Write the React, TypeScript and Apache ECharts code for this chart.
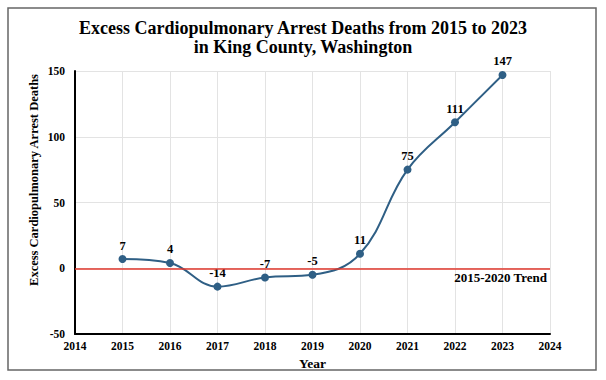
import React, { useEffect, useRef } from "react";
import * as echarts from "echarts";

const years = [2015, 2016, 2017, 2018, 2019, 2020, 2021, 2022, 2023];
const excessDeaths = [7, 4, -14, -7, -5, 11, 75, 111, 147];
const trendValue = 0;
const trendLabel = "2015-2020 Trend";
const titleLines = ["Excess Cardiopulmonary Arrest Deaths from 2015 to 2023", "in King County, Washington"];
const yAxisTitle = "Excess Cardiopulmonary Arrest Deaths";
const xAxisTitle = "Year";

const FONT = "'Times New Roman', 'Liberation Serif', serif";

export default function App() {
  const ref = useRef<HTMLDivElement>(null);
  useEffect(() => {
    document.body.style.margin = "0";
    if (!ref.current) return;
    const chart = echarts.init(ref.current, null, { renderer: "svg" });
    chart.setOption({
      animation: false,
      backgroundColor: "#ffffff",
      textStyle: { fontFamily: FONT },
      title: {
        text: titleLines.join("\n"),
        left: "center",
        top: 13,
        textStyle: { fontFamily: FONT, fontSize: 18, fontWeight: "bold", color: "#000", lineHeight: 19.5 },
      },
      grid: { left: 75, right: 56, top: 71, bottom: 46 },
      xAxis: {
        type: "value",
        min: 2014,
        max: 2024,
        interval: 1,
        name: xAxisTitle,
        nameLocation: "middle",
        nameGap: 19,
        nameTextStyle: { fontFamily: FONT, fontSize: 13.5, fontWeight: "bold", color: "#000" },
        axisLine: { onZero: false, lineStyle: { color: "#000", width: 2 } },
        axisTick: { show: false },
        axisLabel: { fontFamily: FONT, fontSize: 11.5, fontWeight: "bold", color: "#000", margin: 6, formatter: (v: number) => String(v) },
        splitLine: { show: true, lineStyle: { color: "#e3e3e3", width: 1 } },
      },
      yAxis: {
        type: "value",
        min: -50,
        max: 150,
        interval: 50,
        axisLine: { show: true, lineStyle: { color: "#000", width: 2 } },
        axisTick: { show: false },
        axisLabel: { fontFamily: FONT, fontSize: 11.5, fontWeight: "bold", color: "#000", margin: 10 },
        splitLine: { show: true, lineStyle: { color: "#e3e3e3", width: 1 } },
      },
      graphic: [
        {
          type: "rect",
          shape: { x: 8, y: 8, width: 588, height: 362 },
          style: { fill: "none", stroke: "#666", lineWidth: 1.5 },
          silent: true,
        },
        {
          type: "text",
          x: 34,
          y: 180,
          rotation: Math.PI / 2,
          style: {
            text: yAxisTitle,
            fontFamily: FONT,
            fontSize: 12.5,
            fontWeight: "bold",
            fill: "#000",
            align: "center",
            verticalAlign: "middle",
          },
        },
      ],
      series: [
        {
          type: "line",
          data: years.map((y, i) => [y, excessDeaths[i]]),
          smooth: 0.4,
          symbol: "circle",
          symbolSize: 8,
          lineStyle: { color: "#2F5F85", width: 2 },
          itemStyle: { color: "#2F5F85" },
          label: {
            show: true,
            position: "top",
            distance: 3,
            fontFamily: FONT,
            fontSize: 12.5,
            fontWeight: "bold",
            color: "#000",
            formatter: (p: any) => String(p.value[1]),
          },
          markLine: {
            silent: true,
            symbol: "none",
            lineStyle: { color: "#E0372C", width: 1.5, type: "solid" },
            label: {
              show: true,
              position: "insideEndBottom",
              formatter: trendLabel,
              fontFamily: FONT,
              fontSize: 13,
              fontWeight: "bold",
              color: "#000",
              distance: 3,
            },
            data: [{ yAxis: trendValue }],
          },
          z: 3,
        },
      ],
    });
    return () => chart.dispose();
  }, []);
  return <div ref={ref} style={{ width: 606, height: 380 }} />;
}
